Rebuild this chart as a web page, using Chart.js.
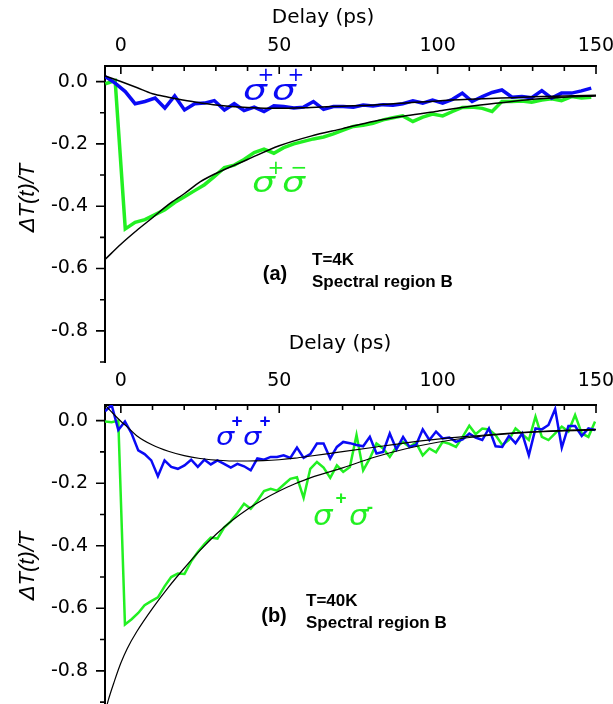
<!DOCTYPE html>
<html>
<head>
<meta charset="utf-8">
<script src="https://cdn.jsdelivr.net/npm/chart.js@4.4.1/dist/chart.umd.min.js"></script>
<style>
  body { margin: 0; background: #fff; }
  #wrap { position: relative; width: 613px; height: 704px; overflow: hidden; }
  canvas { position: absolute; left: 0; }
  #chartA { top: 0; }
  #chartB { top: 325px; }
</style>
</head>
<body onload="handleOnLoad()">
<div id="wrap">
  <canvas id="chartA" width="613" height="372"></canvas>
  <canvas id="chartB" width="613" height="379"></canvas>
</div>
<script>
// ---- panel (a), T=4K ----
const delaysA = [-4.9, -1.8, 1.4, 4.5, 7.6, 10.8, 13.9, 17.0, 20.1, 23.3, 26.4, 29.5, 32.7, 35.8, 38.9, 42.1, 45.2, 48.3, 51.4, 54.6,
  57.7, 60.8, 64.0, 67.1, 70.2, 73.4, 76.5, 79.6, 82.8, 85.9, 89.0, 92.2, 95.3, 98.4, 101.6, 104.7, 107.8, 110.9, 114.1, 117.2,
  120.3, 123.5, 126.6, 129.7, 132.9, 136.0, 139.1, 142.3, 145.4, 148.5]
const blueA = [0.016, -0.005, -0.032, -0.071, -0.064, -0.053, -0.085, -0.046, -0.091, -0.071, -0.069, -0.061, -0.091, -0.071, -0.093, -0.082, -0.096, -0.078, -0.080, -0.085,
  -0.082, -0.064, -0.089, -0.080, -0.080, -0.082, -0.075, -0.078, -0.074, -0.076, -0.071, -0.062, -0.069, -0.059, -0.069, -0.057, -0.037, -0.064, -0.048, -0.035,
  -0.027, -0.050, -0.048, -0.052, -0.029, -0.053, -0.037, -0.037, -0.030, -0.021]
const greenA = [-0.007, 0.003, -0.473, -0.452, -0.443, -0.427, -0.411, -0.388, -0.370, -0.350, -0.331, -0.305, -0.276, -0.268, -0.250, -0.228, -0.217, -0.230, -0.212, -0.200,
  -0.192, -0.184, -0.178, -0.168, -0.156, -0.144, -0.140, -0.134, -0.123, -0.116, -0.110, -0.128, -0.114, -0.104, -0.110, -0.096, -0.083, -0.082, -0.086, -0.096,
  -0.064, -0.064, -0.062, -0.066, -0.059, -0.055, -0.061, -0.048, -0.053, -0.050]
const fitXA = [-5, 0, 5, 10, 15, 20, 25, 30, 40, 50, 60, 70, 80, 90, 100, 110, 120, 130, 140, 150]
const fitBlueA = [0.018, 0.000, -0.019, -0.039, -0.050, -0.060, -0.068, -0.075, -0.083, -0.086, -0.083, -0.079, -0.075, -0.069, -0.062, -0.057, -0.053, -0.049, -0.046, -0.044]
const fitGreenA = [-0.571, -0.522, -0.478, -0.437, -0.395, -0.360, -0.322, -0.295, -0.250, -0.206, -0.175, -0.151, -0.127, -0.110, -0.095, -0.080, -0.068, -0.057, -0.050, -0.046]

// ---- panel (b), T=40K ----
const delaysB = [-5.0, -2.9, -0.8, 1.3, 3.4, 5.5, 7.5, 9.6, 11.7, 13.8, 15.9, 18.0, 20.1, 22.2, 24.3, 26.4, 28.4, 30.5, 32.6, 34.7,
  36.8, 38.9, 41.0, 43.1, 45.2, 47.3, 49.3, 51.4, 53.5, 55.6, 57.7, 59.8, 61.9, 64.0, 66.1, 68.2, 70.2, 72.3, 74.4, 76.5,
  78.6, 80.7, 82.8, 84.9, 87.0, 89.1, 91.1, 93.2, 95.3, 97.4, 99.5, 101.6, 103.7, 105.8, 107.9, 110.0, 112.0, 114.1, 116.2, 118.3,
  120.4, 122.5, 124.6, 126.7, 128.8, 130.9, 132.9, 135.0, 137.1, 139.2, 141.3, 143.4, 145.5, 147.6, 149.7]
const blueB = [0.030, 0.050, -0.030, -0.003, -0.041, -0.095, -0.107, -0.127, -0.178, -0.127, -0.148, -0.154, -0.143, -0.125, -0.148, -0.125, -0.140, -0.127, -0.138, -0.150,
  -0.138, -0.146, -0.159, -0.121, -0.125, -0.116, -0.116, -0.111, -0.119, -0.086, -0.119, -0.107, -0.073, -0.073, -0.121, -0.084, -0.068, -0.072, -0.078, -0.082,
  -0.052, -0.105, -0.100, -0.041, -0.092, -0.052, -0.084, -0.078, -0.028, -0.062, -0.035, -0.057, -0.054, -0.068, -0.060, -0.041, -0.054, -0.062, -0.025, -0.082,
  -0.084, -0.049, -0.072, -0.041, -0.111, -0.025, -0.028, -0.014, 0.037, -0.086, -0.017, -0.017, -0.049, -0.025, -0.030]
const greenB = [-0.003, -0.005, 0.000, -0.652, -0.635, -0.615, -0.590, -0.577, -0.565, -0.530, -0.500, -0.489, -0.490, -0.450, -0.420, -0.395, -0.374, -0.377, -0.342, -0.322,
  -0.295, -0.266, -0.282, -0.256, -0.225, -0.218, -0.224, -0.205, -0.186, -0.181, -0.247, -0.154, -0.132, -0.150, -0.183, -0.143, -0.164, -0.148, -0.046, -0.159,
  -0.121, -0.073, -0.089, -0.116, -0.084, -0.068, -0.084, -0.071, -0.111, -0.089, -0.101, -0.068, -0.074, -0.084, -0.052, -0.016, -0.043, -0.025, -0.028, -0.046,
  -0.078, -0.062, -0.025, -0.043, -0.062, 0.013, -0.052, -0.062, -0.041, -0.019, -0.035, 0.018, -0.041, -0.052, -0.003]
const fitXB = [-5, -4, -2, 0, 2, 5, 10, 15, 20, 25, 30, 35, 40, 45, 50, 55, 60, 70, 80, 90, 100, 110, 120, 130, 140, 150]
const fitBlueB = [0.050, 0.039, 0.018, -0.002, -0.020, -0.048, -0.078, -0.098, -0.112, -0.121, -0.126, -0.129, -0.129, -0.128, -0.125, -0.120, -0.113,
  -0.099, -0.085, -0.071, -0.059, -0.050, -0.042, -0.036, -0.031, -0.028]
const fitGreenB = [-0.935, -0.895, -0.832, -0.775, -0.729, -0.675, -0.600, -0.533, -0.472, -0.415, -0.364, -0.320, -0.283, -0.252, -0.225, -0.202, -0.182,
  -0.151, -0.117, -0.090, -0.069, -0.054, -0.044, -0.037, -0.033, -0.030]

const BLUE = '#0a0af5'
const GREEN = '#22f022'
const SANS = '"DejaVu Sans"'
const ARIAL = '"Liberation Sans", Arial'

function pairs(xs, ys) {
  return xs.map(function (x, i) { return { x: x, y: ys[i] } })
}

// tick marks, axis titles and the in-plot labels are drawn here
const decorPlugin = {
  id: 'decor',
  afterDraw(chart, args, opts) {
    const ctx = chart.ctx
    const xs = chart.scales.x
    const ys = chart.scales.y
    const area = chart.chartArea
    ctx.save()
    ctx.strokeStyle = '#000'
    ctx.lineWidth = 1.6
    ctx.beginPath()
    xs.ticks.forEach(function (t) {
      const px = xs.getPixelForValue(t.value)
      const len = t.value % 50 === 0 ? 8 : 5
      ctx.moveTo(px, area.top)
      ctx.lineTo(px, area.top + len)
    })
    ys.ticks.forEach(function (t) {
      const py = ys.getPixelForValue(t.value)
      const len = Math.round(t.value * 10) % 2 === 0 ? 9 : 5
      ctx.moveTo(area.left, py)
      ctx.lineTo(area.left - len, py)
    })
    ctx.stroke()

    ctx.fillStyle = '#000'
    ctx.textAlign = 'center'
    ctx.textBaseline = 'middle'
    ctx.font = '20px ' + SANS
    ctx.fillText('Delay (ps)', opts.xTitle[0], opts.xTitle[1])

    ctx.save()
    ctx.translate(opts.yTitle[0], opts.yTitle[1])
    ctx.rotate(-Math.PI / 2)
    ctx.font = 'italic 22px ' + ARIAL
    ctx.fillText('\u0394T(t)/T', 0, 0)
    ctx.restore()

    opts.pieces.forEach(function (p) {
      ctx.save()
      ctx.fillStyle = p.color || '#000'
      ctx.font = p.font
      ctx.textAlign = p.align || 'left'
      ctx.textBaseline = p.base || 'middle'
      ctx.translate(p.x, p.y)
      if (p.sx) ctx.scale(p.sx, 1)
      ctx.fillText(p.text, 0, 0)
      ctx.restore()
    })
    ctx.restore()
  }
}

// no label overflow padding, the plot area is set by the layout padding only
function noPad(s) {
  s.paddingTop = 0
  s.paddingBottom = 0
  s.paddingLeft = 0
  s.paddingRight = 0
}

function makeOptions(yMin, xHeight, tickPad, padBottom, decor) {
  return {
    responsive: false,
    animation: false,
    layout: { autoPadding: false, padding: { left: 0, top: 0, right: 17, bottom: padBottom } },
    plugins: { legend: { display: false }, tooltip: { enabled: false }, decor: decor },
    scales: {
      x: {
        type: 'linear', position: 'top', min: -5, max: 150,
        ticks: {
          stepSize: 10, includeBounds: false, autoSkip: false, maxRotation: 0, padding: tickPad,
          color: '#000', font: { family: SANS, size: 19 },
          callback: function (v) { return v % 50 === 0 ? String(v) : '' }
        },
        grid: { display: false, drawTicks: false },
        border: { display: true, color: '#000', width: 2 },
        afterFit: function (s) { s.height = xHeight; noPad(s) }
      },
      y: {
        type: 'linear', min: yMin, max: 0.05,
        ticks: {
          stepSize: 0.1, includeBounds: false, autoSkip: false, padding: 17,
          color: '#000', font: { family: SANS, size: 19 },
          callback: function (v) {
            if (Math.round(v * 10) % 2 !== 0) return ''
            return Math.abs(v) < 1e-9 ? '0.0' : v.toFixed(1)
          }
        },
        grid: { display: false, drawTicks: false },
        border: { display: true, color: '#000', width: 2 },
        afterFit: function (s) { s.width = 105; noPad(s) }
      }
    }
  }
}

function lineSet(data, color, width, smooth) {
  return {
    data: data, borderColor: color, borderWidth: width, pointRadius: 0, fill: false,
    tension: 0, cubicInterpolationMode: smooth ? 'monotone' : 'default'
  }
}

function CreatePanelA() {
  const ctx = document.getElementById('chartA').getContext('2d')
  const sig = 'italic 29px ' + SANS
  const sup = '20px ' + SANS
  const bold = 'bold 17px ' + ARIAL
  new Chart(ctx, {
    type: 'line',
    data: {
      datasets: [
        lineSet(pairs(fitXA, fitBlueA), '#000', 1.5, true),
        lineSet(pairs(fitXA, fitGreenA), '#000', 1.5, true),
        lineSet(pairs(delaysA, blueA), BLUE, 3.5, false),
        lineSet(pairs(delaysA, greenA), GREEN, 3.5, false)
      ]
    },
    options: makeOptions(-0.9, 66, 9, 10, {
      xTitle: [323, 18],
      yTitle: [28, 198],
      pieces: [
        { text: '\u03c3', x: 243, y: 100, font: sig, color: BLUE, base: 'alphabetic', sx: 1.3 },
        { text: '+', x: 266, y: 76, font: sup, color: BLUE, align: 'center' },
        { text: '\u03c3', x: 272, y: 100, font: sig, color: BLUE, base: 'alphabetic', sx: 1.3 },
        { text: '+', x: 296, y: 76, font: sup, color: BLUE, align: 'center' },
        { text: '\u03c3', x: 252, y: 192, font: sig, color: GREEN, base: 'alphabetic', sx: 1.25 },
        { text: '+', x: 276, y: 169, font: sup, color: GREEN, align: 'center' },
        { text: '\u03c3', x: 282, y: 192, font: sig, color: GREEN, base: 'alphabetic', sx: 1.25 },
        { text: '\u2212', x: 299, y: 169, font: sup, color: GREEN, align: 'center' },
        { text: '(a)', x: 275, y: 274, font: 'bold 20px ' + ARIAL, align: 'center' },
        { text: 'T=4K', x: 312, y: 260, font: bold },
        { text: 'Spectral region B', x: 312, y: 282, font: bold }
      ]
    }),
    plugins: [decorPlugin]
  })
}

function CreatePanelB() {
  const ctx = document.getElementById('chartB').getContext('2d')
  const sig = 'italic 25px ' + SANS
  const sup = 'bold 19px ' + ARIAL
  const bold = 'bold 17px ' + ARIAL
  new Chart(ctx, {
    type: 'line',
    data: {
      datasets: [
        lineSet(pairs(fitXB, fitBlueB), '#000', 1.2, true),
        lineSet(pairs(fitXB, fitGreenB), '#000', 1.2, true),
        lineSet(pairs(delaysB, blueB), BLUE, 2.5, false),
        lineSet(pairs(delaysB, greenB), GREEN, 2.5, false)
      ]
    },
    options: makeOptions(-0.906, 80, 13, 0, {
      xTitle: [340, 19],
      yTitle: [28, 241],
      pieces: [
        { text: '\u03c3', x: 216, y: 120, font: sig, color: BLUE, base: 'alphabetic', sx: 1.15 },
        { text: '+', x: 237, y: 97, font: sup, color: BLUE, align: 'center' },
        { text: '\u03c3', x: 243, y: 120, font: sig, color: BLUE, base: 'alphabetic', sx: 1.15 },
        { text: '+', x: 265, y: 97, font: sup, color: BLUE, align: 'center' },
        { text: '\u03c3', x: 313, y: 200, font: 'italic 28px ' + SANS, color: GREEN, base: 'alphabetic', sx: 1.1 },
        { text: '+', x: 341, y: 174, font: sup, color: GREEN, align: 'center' },
        { text: '\u03c3', x: 349, y: 200, font: 'italic 28px ' + SANS, color: GREEN, base: 'alphabetic', sx: 1.1 },
        { text: '-', x: 370, y: 183, font: sup, color: GREEN, align: 'center' },
        { text: '(b)', x: 274, y: 291, font: 'bold 20px ' + ARIAL, align: 'center' },
        { text: 'T=40K', x: 306, y: 276, font: bold },
        { text: 'Spectral region B', x: 306, y: 298, font: bold }
      ]
    }),
    plugins: [decorPlugin]
  })
}

function handleOnLoad() {
  CreatePanelA()
  CreatePanelB()
}
</script>
</body>
</html>
